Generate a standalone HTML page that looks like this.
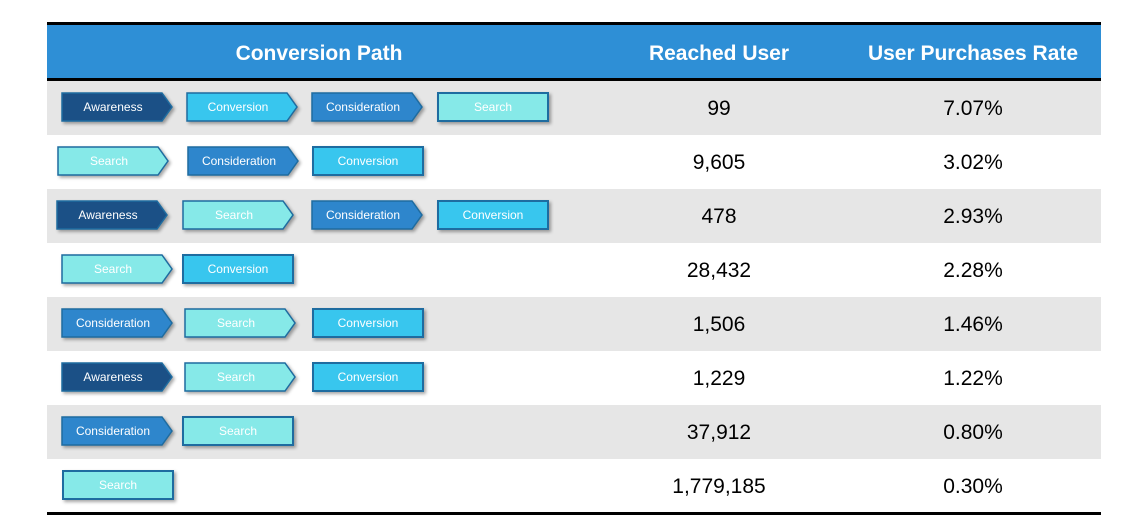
<!DOCTYPE html>
<html><head><meta charset="utf-8"><style>
html,body{margin:0;padding:0;background:#fff;width:1136px;height:519px;overflow:hidden}
svg{display:block}
text{font-family:"Liberation Sans",sans-serif}
</style></head><body>
<svg id="t" width="1136" height="519"></svg>
<script>
const reached = ["99","9,605","478","28,432","1,506","1,229","37,912","1,779,185"];
const rates = ["7.07%","3.02%","2.93%","2.28%","1.46%","1.22%","0.80%","0.30%"];
const paths = [
 ["Awareness","Conversion","Consideration","Search"],
 ["Search","Consideration","Conversion"],
 ["Awareness","Search","Consideration","Conversion"],
 ["Search","Conversion"],
 ["Consideration","Search","Conversion"],
 ["Awareness","Search","Conversion"],
 ["Consideration","Search"],
 ["Search"]
];
const stepStarts = [[62,187,312,438],[58,188,313],[57,183,312,438],[62,183],[62,185,313],[62,185,313],[62,183],[63]];
const colors = {Awareness:"#1b5086",Conversion:"#38c6ee",Consideration:"#2e86cc",Search:"#86e9e8"};
const NS="http://www.w3.org/2000/svg";
const svgEl=document.getElementById('t');
function mk(tag,attrs,parent){const e=document.createElementNS(NS,tag);for(const k in attrs)e.setAttribute(k,attrs[k]);(parent||svgEl).appendChild(e);return e;}
const X0=47,X1=1101,HT=25,HB=78,RH=54,R0=80;
const hdrBand=mk('rect',{x:X0,y:HT,width:X1-X0,height:HB-HT,fill:"#2e8fd6"});


const topRule=mk('rect',{x:X0,y:22,width:X1-X0,height:3,fill:"#000"});


const hdrs=[["Conversion Path",319],["Reached User",719],["User Purchases Rate",973]];
hdrs.forEach(h=>{const t=mk('text',{x:h[1],y:60,'text-anchor':'middle','font-size':21,'font-weight':'bold',fill:'#fff'});t.textContent=h[0];

});
const midRule=mk('rect',{x:X0,y:78,width:X1-X0,height:3,fill:"#000"});


reached.forEach((v,i)=>{
 const y=R0+1+i*RH;
 const g=mk('g',{});
 
 
 mk('rect',{x:X0,y:y,width:X1-X0,height:RH,fill:i%2==0?"#e6e6e6":"#fff"},g);
 const cy=y+RH/2-1;
 const steps=paths[i];
 steps.forEach((s,j)=>{
  const x=stepStarts[i][j],w=110,h=28,yt=cy-h/2;
  const last=j==steps.length-1;
  let shape;
  if(last){shape=mk('rect',{x:x,y:yt,width:w,height:h,fill:colors[s],stroke:"#1e6ca0",'stroke-width':2},g);}
  else{const p=10;shape=mk('polygon',{points:`${x},${yt} ${x+w-p},${yt} ${x+w},${cy} ${x+w-p},${yt+h} ${x},${yt+h}`,fill:colors[s],stroke:"#1e6ca0",'stroke-width':1.5},g);}
  shape.setAttribute('style','filter:drop-shadow(2px 2px 1.5px rgba(0,0,0,0.35))');
  
  
  const t=mk('text',{x:x+(last?w/2:(w-8)/2),y:cy+4,'text-anchor':'middle','font-size':12,fill:'#fff'},g);
  t.textContent=s;
  
  
 });
 const a=mk('text',{x:719,y:cy+8,'text-anchor':'middle','font-size':21,fill:'#000'},g);a.textContent=v;
 
 
 const b=mk('text',{x:973,y:cy+8,'text-anchor':'middle','font-size':21,fill:'#000'},g);b.textContent=rates[i];
 
 
});
const botRule=mk('rect',{x:X0,y:R0+1+reached.length*RH-1,width:X1-X0,height:3,fill:"#000"});


</script>
</body></html>
